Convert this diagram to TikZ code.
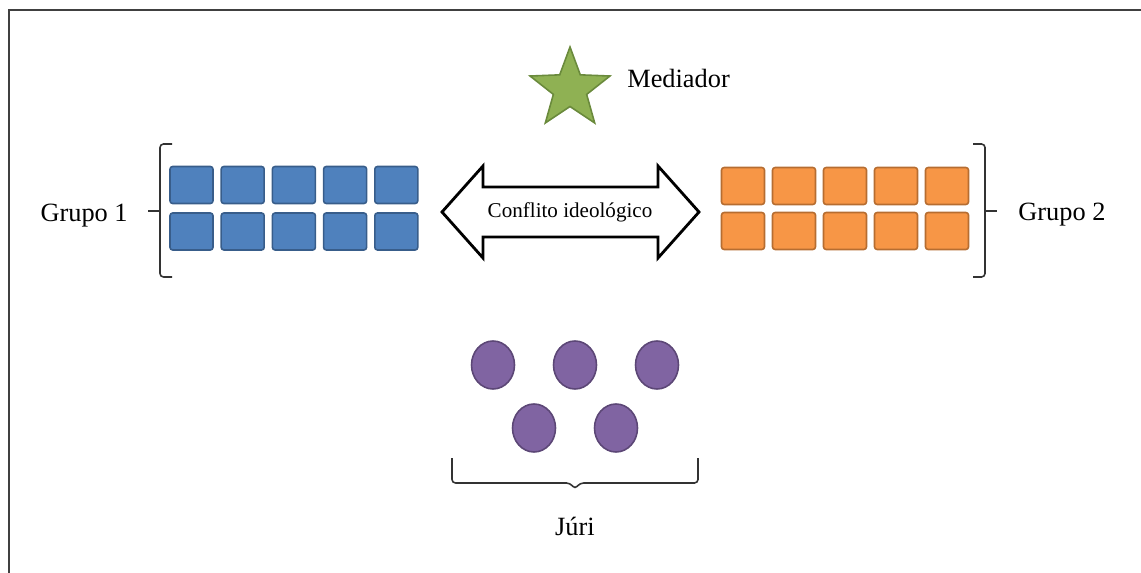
\documentclass[tikz,border=0pt]{standalone}
\usepackage{fontspec}
\setmainfont{Liberation Serif}
\usepackage{tikz}
\usetikzlibrary{arrows.meta, positioning, calc, shapes}
\definecolor{groupblue}{HTML}{4F81BD}
\definecolor{groupblueedge}{HTML}{385D8A}
\definecolor{grouporange}{HTML}{F79646}
\definecolor{grouporangeedge}{HTML}{B66D31}
\definecolor{jurypurple}{HTML}{8064A2}
\definecolor{jurypurpleedge}{HTML}{5C4776}
\definecolor{mediatorgreen}{HTML}{8FB153}
\definecolor{mediatorgreenedge}{HTML}{6A8A3C}
\definecolor{framegray}{HTML}{404040}

\begin{document}
\begin{tikzpicture}[x=0.02cm, y=-0.02cm,
        member/.style={rectangle, rounded corners=1.5pt, line width=0.9pt, inner sep=0pt,
            minimum width=0.86cm, minimum height=0.74cm},
        juror/.style={ellipse, line width=0.9pt, inner sep=0pt, fill=jurypurple,
            draw=jurypurpleedge, minimum width=0.86cm, minimum height=0.96cm},
        label/.style={inner sep=0pt, font=\fontsize{15}{18}\selectfont},
        brace/.style={line width=0.9pt, black!80, rounded corners=2pt}]
        \useasboundingbox (0,0) rectangle (1141,573);
        % frame (cut at right and bottom)
        \draw[line width=1.1pt, framegray] (9,573) -- (9,10) -- (1141,10);

        % Mediador
        \node[star, star points=5, star point ratio=2.4, inner sep=0pt, minimum size=1.68cm,
            fill=mediatorgreen, draw=mediatorgreenedge, line width=0.9pt] (star) at (570,89) {};
        \node[label, anchor=base west] (mediador) at (627,88) {Mediador};

        % Grupo 1
        \foreach \i in {0,...,4} {
            \node[member, fill=groupblue, draw=groupblueedge] (b1\i) at ({191.5+51.2*\i},185) {};
            \node[member, fill=groupblue, draw=groupblueedge] (b2\i) at ({191.5+51.2*\i},231.5) {};
        }
        \draw[brace] (172,144) -- (160,144) -- (160,277) -- (172,277);
        \draw[brace] (160,211) -- (148,211);
        \node[label, anchor=base east] (grupo1) at (128,222) {Grupo 1};

        % Grupo 2
        \foreach \i in {0,...,4} {
            \node[member, fill=grouporange, draw=grouporangeedge] (o1\i) at ({743+51*\i},186) {};
            \node[member, fill=grouporange, draw=grouporangeedge] (o2\i) at ({743+51*\i},231) {};
        }
        \draw[brace] (973,144) -- (985,144) -- (985,277) -- (973,277);
        \draw[brace] (985,211) -- (997,211);
        \node[label, anchor=base west] (grupo2) at (1018,221) {Grupo 2};

        % Conflito ideologico
        \draw[line width=1.6pt, fill=white, line join=miter]
            (442,212) -- (483,166) -- (483,187) -- (658,187) -- (658,166) -- (699,212)
            -- (658,258) -- (658,237) -- (483,237) -- (483,258) -- cycle;
        \node[inner sep=0pt, anchor=base, font=\fontsize{12}{14}\selectfont] (conflito) at (570,218) {Conflito ideológico};

        % Juri
        \node[juror] (j1) at (493,365) {};
        \node[juror] (j2) at (575,365) {};
        \node[juror] (j3) at (657,365) {};
        \node[juror] (j4) at (534,428) {};
        \node[juror] (j5) at (616,428) {};
        \draw[brace] (452,458) -- (452,483) -- (570,483) -- (575,489) -- (580,483) -- (698,483) -- (698,458);
        \node[label, anchor=base] (juri) at (575,535) {Júri};
\end{tikzpicture}
\end{document}
